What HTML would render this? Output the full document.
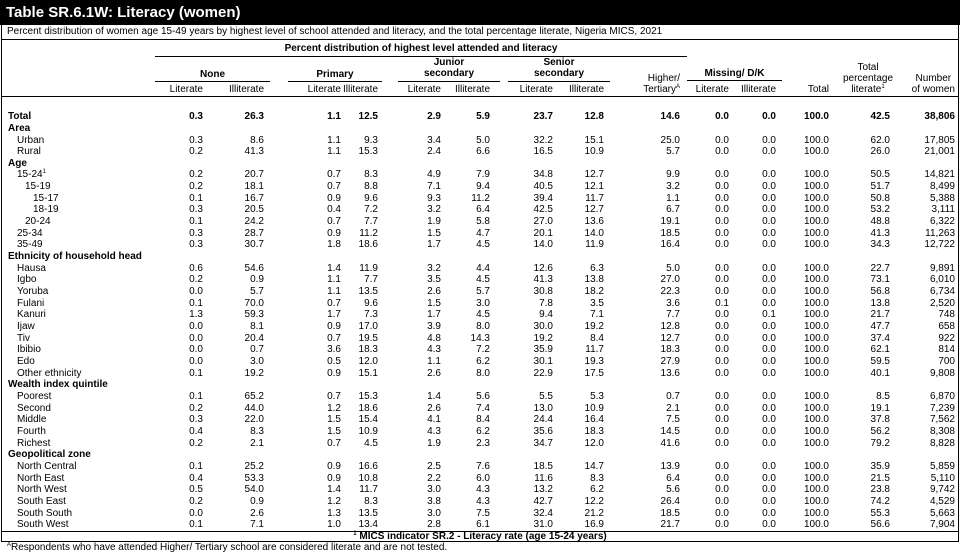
<!DOCTYPE html>
<html><head><meta charset="utf-8"><style>
*{margin:0;padding:0;box-sizing:border-box}
body{width:960px;height:554px;background:#fff;position:relative;overflow:hidden;font-family:"Liberation Sans",Arial,sans-serif;font-size:10px;color:#000}
.t{position:absolute;left:0;top:0;width:960px;height:25px;background:#000;color:#fff;font-weight:bold;font-size:15px;line-height:25px;padding-left:6px}
.box{position:absolute;left:1px;top:25px;width:958px;height:517px;border:1px solid #000;border-top:none}
.hl{position:absolute;height:1px;background:#000}
.h{position:absolute;white-space:nowrap;line-height:11px}
.b{font-weight:bold}
.r{position:absolute;left:0;width:960px;height:12px;line-height:12px;white-space:nowrap}
.r span{position:absolute}
.r span.l{left:8px}
.r .a{left:17px!important}.r .c{left:25px!important}.r .d{left:33px!important}
.r span:nth-child(2){right:757px}.r span:nth-child(3){right:696px}.r span:nth-child(4){right:619px}.r span:nth-child(5){right:582px}
.r span:nth-child(6){right:519px}.r span:nth-child(7){right:470px}.r span:nth-child(8){right:407px}.r span:nth-child(9){right:356px}
.r span:nth-child(10){right:280px}.r span:nth-child(11){right:231px}.r span:nth-child(12){right:184px}.r span:nth-child(13){right:131px}
.r span:nth-child(14){right:70px}.r span:nth-child(15){right:5px}
sup{font-size:6px;vertical-align:top;line-height:6px}
</style></head><body>
<div class="t">Table SR.6.1W: Literacy (women)</div>
<div class="box"></div>
<div class="h" style="left:7px;top:26px">Percent distribution of women age 15-49 years by highest level of school attended and literacy, and the total percentage literate, Nigeria MICS, 2021</div>
<div class="hl" style="left:1px;top:39px;width:958px"></div>
<div class="h b" style="left:155px;width:532px;text-align:center;top:43px">Percent distribution of highest level attended and literacy</div>
<div class="hl" style="left:155px;top:56px;width:532px"></div>
<div class="h b" style="left:155px;width:115px;text-align:center;top:69px">None</div>
<div class="hl" style="left:155px;top:81px;width:115px"></div>
<div class="h b" style="left:288px;width:94px;text-align:center;top:69px">Primary</div>
<div class="hl" style="left:288px;top:81px;width:94px"></div>
<div class="h b" style="left:398px;width:102px;text-align:center;top:57px">Junior<br>secondary</div>
<div class="hl" style="left:398px;top:81px;width:102px"></div>
<div class="h b" style="left:508px;width:102px;text-align:center;top:57px">Senior<br>secondary</div>
<div class="hl" style="left:508px;top:81px;width:102px"></div>
<div class="h" style="right:280px;text-align:right;top:73px">Higher/<br>Tertiary<sup>A</sup></div>
<div class="h b" style="left:687px;width:95px;text-align:center;top:68px">Missing/ D/K</div>
<div class="hl" style="left:687px;top:80px;width:95px"></div>
<div class="h" style="right:131px;top:84px">Total</div>
<div class="h" style="left:828px;width:80px;text-align:center;top:62px">Total<br>percentage<br>literate<sup>1</sup></div>
<div class="h" style="right:5px;text-align:center;top:73px">Number<br>of women</div>
<div class="h" style="right:757px;top:84px">Literate</div><div class="h" style="right:696px;top:84px">Illiterate</div>
<div class="h" style="right:619px;top:84px">Literate</div><div class="h" style="right:582px;top:84px">Illiterate</div>
<div class="h" style="right:519px;top:84px">Literate</div><div class="h" style="right:470px;top:84px">Illiterate</div>
<div class="h" style="right:407px;top:84px">Literate</div><div class="h" style="right:356px;top:84px">Illiterate</div>
<div class="h" style="right:231px;top:84px">Literate</div><div class="h" style="right:184px;top:84px">Illiterate</div>
<div class="hl" style="left:1px;top:96px;width:958px"></div>

<div class="r b" style="top:111px"><span class="l">Total</span><span>0.3</span><span>26.3</span><span>1.1</span><span>12.5</span><span>2.9</span><span>5.9</span><span>23.7</span><span>12.8</span><span>14.6</span><span>0.0</span><span>0.0</span><span>100.0</span><span>42.5</span><span>38,806</span></div>
<div class="r b" style="top:123px"><span class="l">Area</span></div>
<div class="r" style="top:135px"><span class="l a">Urban</span><span>0.3</span><span>8.6</span><span>1.1</span><span>9.3</span><span>3.4</span><span>5.0</span><span>32.2</span><span>15.1</span><span>25.0</span><span>0.0</span><span>0.0</span><span>100.0</span><span>62.0</span><span>17,805</span></div>
<div class="r" style="top:146px"><span class="l a">Rural</span><span>0.2</span><span>41.3</span><span>1.1</span><span>15.3</span><span>2.4</span><span>6.6</span><span>16.5</span><span>10.9</span><span>5.7</span><span>0.0</span><span>0.0</span><span>100.0</span><span>26.0</span><span>21,001</span></div>
<div class="r b" style="top:158px"><span class="l">Age</span></div>
<div class="r" style="top:169px"><span class="l a">15-24<sup>1</sup></span><span>0.2</span><span>20.7</span><span>0.7</span><span>8.3</span><span>4.9</span><span>7.9</span><span>34.8</span><span>12.7</span><span>9.9</span><span>0.0</span><span>0.0</span><span>100.0</span><span>50.5</span><span>14,821</span></div>
<div class="r" style="top:181px"><span class="l c">15-19</span><span>0.2</span><span>18.1</span><span>0.7</span><span>8.8</span><span>7.1</span><span>9.4</span><span>40.5</span><span>12.1</span><span>3.2</span><span>0.0</span><span>0.0</span><span>100.0</span><span>51.7</span><span>8,499</span></div>
<div class="r" style="top:193px"><span class="l d">15-17</span><span>0.1</span><span>16.7</span><span>0.9</span><span>9.6</span><span>9.3</span><span>11.2</span><span>39.4</span><span>11.7</span><span>1.1</span><span>0.0</span><span>0.0</span><span>100.0</span><span>50.8</span><span>5,388</span></div>
<div class="r" style="top:204px"><span class="l d">18-19</span><span>0.3</span><span>20.5</span><span>0.4</span><span>7.2</span><span>3.2</span><span>6.4</span><span>42.5</span><span>12.7</span><span>6.7</span><span>0.0</span><span>0.0</span><span>100.0</span><span>53.2</span><span>3,111</span></div>
<div class="r" style="top:216px"><span class="l c">20-24</span><span>0.1</span><span>24.2</span><span>0.7</span><span>7.7</span><span>1.9</span><span>5.8</span><span>27.0</span><span>13.6</span><span>19.1</span><span>0.0</span><span>0.0</span><span>100.0</span><span>48.8</span><span>6,322</span></div>
<div class="r" style="top:228px"><span class="l a">25-34</span><span>0.3</span><span>28.7</span><span>0.9</span><span>11.2</span><span>1.5</span><span>4.7</span><span>20.1</span><span>14.0</span><span>18.5</span><span>0.0</span><span>0.0</span><span>100.0</span><span>41.3</span><span>11,263</span></div>
<div class="r" style="top:239px"><span class="l a">35-49</span><span>0.3</span><span>30.7</span><span>1.8</span><span>18.6</span><span>1.7</span><span>4.5</span><span>14.0</span><span>11.9</span><span>16.4</span><span>0.0</span><span>0.0</span><span>100.0</span><span>34.3</span><span>12,722</span></div>
<div class="r b" style="top:251px"><span class="l">Ethnicity of household head</span></div>
<div class="r" style="top:263px"><span class="l a">Hausa</span><span>0.6</span><span>54.6</span><span>1.4</span><span>11.9</span><span>3.2</span><span>4.4</span><span>12.6</span><span>6.3</span><span>5.0</span><span>0.0</span><span>0.0</span><span>100.0</span><span>22.7</span><span>9,891</span></div>
<div class="r" style="top:274px"><span class="l a">Igbo</span><span>0.2</span><span>0.9</span><span>1.1</span><span>7.7</span><span>3.5</span><span>4.5</span><span>41.3</span><span>13.8</span><span>27.0</span><span>0.0</span><span>0.0</span><span>100.0</span><span>73.1</span><span>6,010</span></div>
<div class="r" style="top:286px"><span class="l a">Yoruba</span><span>0.0</span><span>5.7</span><span>1.1</span><span>13.5</span><span>2.6</span><span>5.7</span><span>30.8</span><span>18.2</span><span>22.3</span><span>0.0</span><span>0.0</span><span>100.0</span><span>56.8</span><span>6,734</span></div>
<div class="r" style="top:298px"><span class="l a">Fulani</span><span>0.1</span><span>70.0</span><span>0.7</span><span>9.6</span><span>1.5</span><span>3.0</span><span>7.8</span><span>3.5</span><span>3.6</span><span>0.1</span><span>0.0</span><span>100.0</span><span>13.8</span><span>2,520</span></div>
<div class="r" style="top:309px"><span class="l a">Kanuri</span><span>1.3</span><span>59.3</span><span>1.7</span><span>7.3</span><span>1.7</span><span>4.5</span><span>9.4</span><span>7.1</span><span>7.7</span><span>0.0</span><span>0.1</span><span>100.0</span><span>21.7</span><span>748</span></div>
<div class="r" style="top:321px"><span class="l a">Ijaw</span><span>0.0</span><span>8.1</span><span>0.9</span><span>17.0</span><span>3.9</span><span>8.0</span><span>30.0</span><span>19.2</span><span>12.8</span><span>0.0</span><span>0.0</span><span>100.0</span><span>47.7</span><span>658</span></div>
<div class="r" style="top:333px"><span class="l a">Tiv</span><span>0.0</span><span>20.4</span><span>0.7</span><span>19.5</span><span>4.8</span><span>14.3</span><span>19.2</span><span>8.4</span><span>12.7</span><span>0.0</span><span>0.0</span><span>100.0</span><span>37.4</span><span>922</span></div>
<div class="r" style="top:344px"><span class="l a">Ibibio</span><span>0.0</span><span>0.7</span><span>3.6</span><span>18.3</span><span>4.3</span><span>7.2</span><span>35.9</span><span>11.7</span><span>18.3</span><span>0.0</span><span>0.0</span><span>100.0</span><span>62.1</span><span>814</span></div>
<div class="r" style="top:356px"><span class="l a">Edo</span><span>0.0</span><span>3.0</span><span>0.5</span><span>12.0</span><span>1.1</span><span>6.2</span><span>30.1</span><span>19.3</span><span>27.9</span><span>0.0</span><span>0.0</span><span>100.0</span><span>59.5</span><span>700</span></div>
<div class="r" style="top:368px"><span class="l a">Other ethnicity</span><span>0.1</span><span>19.2</span><span>0.9</span><span>15.1</span><span>2.6</span><span>8.0</span><span>22.9</span><span>17.5</span><span>13.6</span><span>0.0</span><span>0.0</span><span>100.0</span><span>40.1</span><span>9,808</span></div>
<div class="r b" style="top:379px"><span class="l">Wealth index quintile</span></div>
<div class="r" style="top:391px"><span class="l a">Poorest</span><span>0.1</span><span>65.2</span><span>0.7</span><span>15.3</span><span>1.4</span><span>5.6</span><span>5.5</span><span>5.3</span><span>0.7</span><span>0.0</span><span>0.0</span><span>100.0</span><span>8.5</span><span>6,870</span></div>
<div class="r" style="top:403px"><span class="l a">Second</span><span>0.2</span><span>44.0</span><span>1.2</span><span>18.6</span><span>2.6</span><span>7.4</span><span>13.0</span><span>10.9</span><span>2.1</span><span>0.0</span><span>0.0</span><span>100.0</span><span>19.1</span><span>7,239</span></div>
<div class="r" style="top:414px"><span class="l a">Middle</span><span>0.3</span><span>22.0</span><span>1.5</span><span>15.4</span><span>4.1</span><span>8.4</span><span>24.4</span><span>16.4</span><span>7.5</span><span>0.0</span><span>0.0</span><span>100.0</span><span>37.8</span><span>7,562</span></div>
<div class="r" style="top:426px"><span class="l a">Fourth</span><span>0.4</span><span>8.3</span><span>1.5</span><span>10.9</span><span>4.3</span><span>6.2</span><span>35.6</span><span>18.3</span><span>14.5</span><span>0.0</span><span>0.0</span><span>100.0</span><span>56.2</span><span>8,308</span></div>
<div class="r" style="top:438px"><span class="l a">Richest</span><span>0.2</span><span>2.1</span><span>0.7</span><span>4.5</span><span>1.9</span><span>2.3</span><span>34.7</span><span>12.0</span><span>41.6</span><span>0.0</span><span>0.0</span><span>100.0</span><span>79.2</span><span>8,828</span></div>
<div class="r b" style="top:449px"><span class="l">Geopolitical zone</span></div>
<div class="r" style="top:461px"><span class="l a">North Central</span><span>0.1</span><span>25.2</span><span>0.9</span><span>16.6</span><span>2.5</span><span>7.6</span><span>18.5</span><span>14.7</span><span>13.9</span><span>0.0</span><span>0.0</span><span>100.0</span><span>35.9</span><span>5,859</span></div>
<div class="r" style="top:473px"><span class="l a">North East</span><span>0.4</span><span>53.3</span><span>0.9</span><span>10.8</span><span>2.2</span><span>6.0</span><span>11.6</span><span>8.3</span><span>6.4</span><span>0.0</span><span>0.0</span><span>100.0</span><span>21.5</span><span>5,110</span></div>
<div class="r" style="top:484px"><span class="l a">North West</span><span>0.5</span><span>54.0</span><span>1.4</span><span>11.7</span><span>3.0</span><span>4.3</span><span>13.2</span><span>6.2</span><span>5.6</span><span>0.0</span><span>0.0</span><span>100.0</span><span>23.8</span><span>9,742</span></div>
<div class="r" style="top:496px"><span class="l a">South East</span><span>0.2</span><span>0.9</span><span>1.2</span><span>8.3</span><span>3.8</span><span>4.3</span><span>42.7</span><span>12.2</span><span>26.4</span><span>0.0</span><span>0.0</span><span>100.0</span><span>74.2</span><span>4,529</span></div>
<div class="r" style="top:508px"><span class="l a">South South</span><span>0.0</span><span>2.6</span><span>1.3</span><span>13.5</span><span>3.0</span><span>7.5</span><span>32.4</span><span>21.2</span><span>18.5</span><span>0.0</span><span>0.0</span><span>100.0</span><span>55.3</span><span>5,663</span></div>
<div class="r" style="top:519px"><span class="l a">South West</span><span>0.1</span><span>7.1</span><span>1.0</span><span>13.4</span><span>2.8</span><span>6.1</span><span>31.0</span><span>16.9</span><span>21.7</span><span>0.0</span><span>0.0</span><span>100.0</span><span>56.6</span><span>7,904</span></div>
<div class="hl" style="left:1px;top:531px;width:958px"></div>
<div class="h b" style="left:0;width:960px;text-align:center;top:531px"><sup>1</sup> MICS indicator SR.2 - Literacy rate (age 15-24 years)</div>
<div class="h" style="left:7px;top:542px"><sup>A</sup>Respondents who have attended Higher/ Tertiary school are considered literate and are not tested.</div>
</body></html>
